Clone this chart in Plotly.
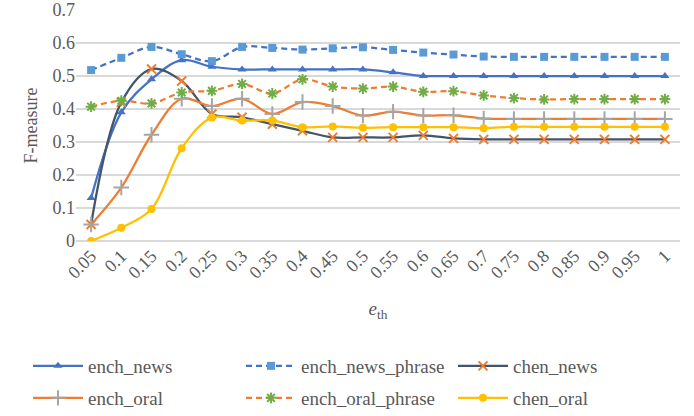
import plotly.graph_objects as go

categories = ["0.05", "0.1", "0.15", "0.2", "0.25", "0.3", "0.35", "0.4", "0.45", "0.5",
              "0.55", "0.6", "0.65", "0.7", "0.75", "0.8", "0.85", "0.9", "0.95", "1"]

ench_news = [0.13, 0.39, 0.49, 0.548, 0.528, 0.52, 0.52, 0.52, 0.52, 0.52,
             0.511, 0.50, 0.50, 0.50, 0.50, 0.50, 0.50, 0.50, 0.50, 0.50]
ench_news_phrase = [0.518, 0.555, 0.588, 0.566, 0.545, 0.588, 0.585, 0.58, 0.584, 0.587,
                    0.579, 0.571, 0.565, 0.559, 0.558, 0.558, 0.558, 0.558, 0.558, 0.558]
chen_news = [0.05, 0.42, 0.521, 0.485, 0.385, 0.375, 0.354, 0.334, 0.314, 0.314,
             0.314, 0.32, 0.311, 0.308, 0.308, 0.308, 0.308, 0.308, 0.308, 0.308]
ench_oral = [0.05, 0.162, 0.322, 0.431, 0.409, 0.431, 0.385, 0.421, 0.409, 0.38,
             0.392, 0.38, 0.381, 0.371, 0.37, 0.37, 0.37, 0.37, 0.37, 0.37]
ench_oral_phrase = [0.407, 0.425, 0.417, 0.45, 0.455, 0.476, 0.447, 0.49, 0.468, 0.462,
                    0.468, 0.452, 0.454, 0.441, 0.433, 0.429, 0.43, 0.43, 0.43, 0.43]
chen_oral = [0.0, 0.04, 0.097, 0.281, 0.374, 0.365, 0.365, 0.345, 0.347, 0.343,
             0.345, 0.345, 0.345, 0.342, 0.346, 0.346, 0.346, 0.346, 0.346, 0.346]

FONT = "Liberation Serif"
GRAY = "#595959"
W, H = 694, 416
DASH = "6px,4px"

series = [
    # name, values, line color, dash, marker symbol, marker color, marker size
    ("ench_news", ench_news, "#4472C4", "solid", "triangle-up", "#4472C4", 8),
    ("ench_news_phrase", ench_news_phrase, "#4472C4", DASH, "square", "#5B9BD5", 8),
    ("chen_news", chen_news, "#44546A", "solid", "x-thin-open", "#ED7D31", 9),
    ("ench_oral", ench_oral, "#ED7D31", "solid", "cross-thin-open", "#A5A5A5", 11),
    ("ench_oral_phrase", ench_oral_phrase, "#ED7D31", DASH, "asterisk-open", "#70AD47", 9),
    ("chen_oral", chen_oral, "#FFC000", "solid", "circle", "#FFC000", 8),
]

# legend slot for each series: (left px, centre-y px) in the page
legend_slots = [(28, 366), (241, 366), (453, 366), (28, 398), (241, 398), (453, 398)]

fig = go.Figure()
layout_legends = {}
for i, (name, vals, lc, dash, sym, mc, ms) in enumerate(series):
    leg = "legend" if i == 0 else f"legend{i + 1}"
    fig.add_trace(go.Scatter(
        x=categories, y=vals, name=name, mode="lines+markers",
        line=dict(color=lc, width=2.25, dash=dash, shape="spline", smoothing=1),
        marker=dict(symbol=sym, color=mc, size=ms,
                    line=dict(color=mc, width=2 if "open" in sym else 0)),
        legend=leg, showlegend=True,
    ))
    lx, ly = legend_slots[i]
    layout_legends[leg] = dict(
        x=lx / W, y=1 - ly / H, xref="container", yref="container",
        xanchor="left", yanchor="middle", orientation="h",
        font=dict(family=FONT, size=19, color=GRAY), itemwidth=50,
        bgcolor="rgba(0,0,0,0)", visible=True,
    )

fig.update_layout(
    width=W, height=H, showlegend=True,
    margin=dict(l=76, r=14, t=10, b=175, autoexpand=False),
    plot_bgcolor="white", paper_bgcolor="white",
    font=dict(family=FONT, size=18, color=GRAY),
    xaxis=dict(
        type="category", range=[-0.5, 19.5], tickangle=-45, showgrid=False, automargin=False,
        tickfont=dict(family=FONT, size=18, color=GRAY), ticks="", showline=False,
        title=dict(text="<i>e</i><sub>th</sub>", font=dict(family=FONT, size=19, color=GRAY), standoff=20),
    ),
    yaxis=dict(
        range=[0, 0.7], dtick=0.1, showgrid=True, gridcolor="#D9D9D9", gridwidth=1.5, automargin=False,
        zeroline=True, zerolinecolor="#D9D9D9", zerolinewidth=1.5,
        tickfont=dict(family=FONT, size=18, color=GRAY), ticks="", tickformat="~g",
        title=dict(text="F-measure", font=dict(family=FONT, size=18, color=GRAY), standoff=10),
    ),
    **layout_legends,
)

fig.write_html("out.html", post_script="document.body.style.margin='0';",
               config={"displayModeBar": False})
